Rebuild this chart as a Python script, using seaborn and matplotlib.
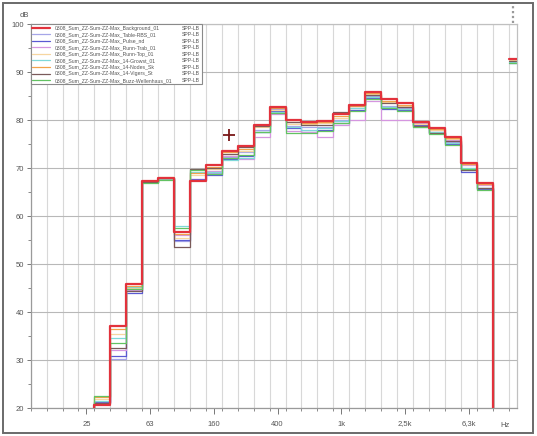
import numpy as np
import pandas as pd
import seaborn as sns
import matplotlib.pyplot as plt
from matplotlib.lines import Line2D
from matplotlib.patches import Rectangle
from matplotlib.ticker import FixedLocator, MultipleLocator

sns.set_theme(style="white")
plt.rcParams["font.family"] = ["Liberation Sans", "DejaVu Sans"]

# Third-octave band names, 12.5 Hz .. 10 kHz
bands = ["12,5", "16", "20", "25", "31,5", "40", "50", "63", "80", "100",
         "125", "160", "200", "250", "315", "400", "500", "630", "800", "1k",
         "1,25k", "1,6k", "2k", "2,5k", "3,15k", "4k", "5k", "6,3k", "8k", "10k"]
first_band = "31,5"          # first band with a measured level (levels run to 8k)
floor_db = 20

tick_bands = ["25", "63", "160", "400", "1k", "2,5k", "6,3k"]

series_names = [
    "0308_Sum_ZZ-Sum-ZZ-Max_Background_01",
    "0308_Sum_ZZ-Sum-ZZ-Max_Table-RBS_01",
    "0308_Sum_ZZ-Sum-ZZ-Max_Pulse_nd",
    "0308_Sum_ZZ-Sum-ZZ-Max_Runn-Trab_01",
    "0308_Sum_ZZ-Sum-ZZ-Max_Runn-Top_01",
    "0308_Sum_ZZ-Sum-ZZ-Max_14-Growst_01",
    "0308_Sum_ZZ-Sum-ZZ-Max_14-Nodes_Sk",
    "0308_Sum_ZZ-Sum-ZZ-Max_14-Vigers_St",
    "0308_Sum_ZZ-Sum-ZZ-Max_Buzz-Wellenhaus_01",
]
channel = "SPP-LB"

# Band levels in dB, 31.5 Hz .. 8 kHz
background = [20.6, 37.1, 45.8, 67.2, 68.0, 56.7, 67.2, 70.6, 73.6, 74.5, 79.0, 82.8, 80.0,
              79.6, 79.7, 81.2, 83.2, 85.9, 84.3, 83.5, 79.6, 78.3, 76.5, 71.0, 66.9]
table_rbs = [21.0, 30.2, 44.5, 67.0, 67.8, 54.8, 67.6, 69.0, 72.2, 73.3, 77.9, 82.3, 78.8,
             78.5, 78.6, 80.0, 82.6, 85.0, 83.0, 82.5, 79.0, 77.5, 75.4, 69.6, 65.8]
pulse = [21.2, 30.8, 44.0, 67.0, 67.9, 55.0, 67.8, 68.6, 71.8, 72.5, 77.5, 81.8, 78.3,
         77.5, 78.0, 79.4, 82.1, 84.5, 82.3, 82.0, 78.9, 77.3, 75.0, 69.2, 65.6]
runn_trab = [21.0, 32.0, 44.6, 67.0, 67.8, 56.0, 67.4, 69.4, 72.6, 71.9, 76.5, 81.2, 77.8,
             77.5, 76.4, 79.0, 80.0, 84.0, 80.0, 80.0, 79.4, 77.9, 75.9, 70.6, 66.5]
runn_top = [21.8, 35.5, 45.0, 67.1, 68.2, 55.5, 68.5, 69.8, 73.0, 73.5, 78.5, 82.1, 79.2,
            79.2, 79.3, 80.5, 83.0, 85.5, 83.8, 83.0, 79.2, 77.9, 76.0, 70.8, 66.7]
growst = [21.4, 34.5, 45.2, 67.0, 67.8, 58.0, 69.2, 69.2, 71.6, 72.0, 77.6, 81.6, 78.5,
          78.0, 78.3, 79.8, 82.4, 84.7, 82.8, 82.2, 78.6, 77.6, 75.2, 69.9, 65.9]
nodes = [22.3, 36.5, 45.5, 67.2, 68.0, 56.2, 68.9, 70.2, 73.3, 74.0, 78.8, 82.5, 79.6,
         79.4, 79.5, 80.8, 82.9, 85.7, 84.0, 83.2, 79.5, 78.1, 76.2, 70.8, 66.6]
vigers = [21.0, 32.5, 44.3, 67.0, 67.9, 53.5, 69.8, 70.0, 72.9, 74.3, 78.7, 82.8, 79.6,
          79.0, 79.0, 81.6, 83.1, 85.3, 83.5, 82.8, 78.8, 77.3, 75.6, 69.6, 65.8]
wellenhaus = [22.5, 33.5, 44.8, 66.9, 67.5, 57.6, 69.5, 68.8, 72.0, 72.8, 77.5, 81.4, 77.2,
              77.2, 77.8, 79.4, 81.8, 84.3, 82.6, 81.8, 78.5, 77.0, 74.8, 69.8, 65.5]

# Overall (broadband) level per measurement
overall = [92.8, 92.0, 91.8, 92.4, 92.6, 92.0, 92.7, 92.2, 91.9]

# Cursor position (band coordinate, dB)
cursor_x = 12.45
cursor_y = 76.9

levels = [background, table_rbs, pulse, runn_trab, runn_top, growst, nodes, vigers, wellenhaus]
colors = ["#e2323c", "#a6a6e8", "#5a5ad2", "#d596e0", "#f6d6a0",
          "#7fd8d8", "#f2a24a", "#7a5a5a", "#62c262"]
widths = [1.6, 0.9, 0.9, 0.9, 0.9, 0.9, 0.9, 0.9, 0.9]

n_bands = len(bands)
x_max = n_bands + 0.53          # narrow extra column holds the overall level
start = bands.index(first_band)

rows = []
for name, vals, ov in zip(series_names, levels, overall):
    rows.append((name, "spectrum", start, floor_db))
    for i, v in enumerate(vals):
        rows.append((name, "spectrum", start + i, v))
    rows.append((name, "spectrum", start + len(vals), floor_db))
    rows.append((name, "overall", n_bands, ov))
    rows.append((name, "overall", x_max, ov))
df = pd.DataFrame(rows, columns=["series", "segment", "x", "level"])

W, H = 537, 436
fig = plt.figure(figsize=(W / 100, H / 100), dpi=100)
fig.patch.set_facecolor("white")
ax = fig.add_axes([30.7 / W, 1 - 408 / H, (517 - 30.7) / W, 384 / H])
ax.set_facecolor("white")

sns.lineplot(data=df, x="x", y="level", hue="series", size="series", units="segment",
             estimator=None, sort=False, palette=dict(zip(series_names, colors)),
             sizes=dict(zip(series_names, widths)), drawstyle="steps-post",
             legend="full", ax=ax)

for ln in ax.lines:
    if ln.get_color() == colors[0]:
        ln.set_zorder(3)

sns.scatterplot(x=[cursor_x], y=[cursor_y], marker="+", s=70, color="#7a1818",
                linewidth=1.3, legend=False, ax=ax, zorder=5)

ax.set_xlim(0, x_max)
ax.set_ylim(20, 100)

centers = [bands.index(b) + 0.5 for b in tick_bands]
ax.xaxis.set_major_locator(FixedLocator(centers))
ax.set_xticklabels(tick_bands)
ax.xaxis.set_minor_locator(FixedLocator(np.arange(0, n_bands + 1)))
ax.yaxis.set_major_locator(MultipleLocator(10))
ax.yaxis.set_minor_locator(MultipleLocator(5))

ax.grid(True, which="minor", axis="x", color="#d8d8d8", lw=0.8)
ax.grid(True, which="major", axis="y", color="#b8b8b8", lw=0.8)
ax.grid(False, which="major", axis="x")
ax.set_axisbelow(True)

ax.tick_params(axis="both", which="both", direction="out", colors="#777777",
               labelsize=5.5, labelcolor="#555555", bottom=True, left=True)
ax.tick_params(axis="x", which="major", length=4, width=0.7, pad=5)
ax.tick_params(axis="x", which="minor", length=2, width=0.6)
ax.tick_params(axis="y", which="major", length=3, width=0.7, pad=2)
ax.tick_params(axis="y", which="minor", length=2, width=0.6)

for side, sp in ax.spines.items():
    sp.set_color("#9a9a9a" if side in ("left", "bottom") else "#c0c0c0")
    sp.set_linewidth(0.9)

ax.set_xlabel("")
ax.set_ylabel("")
ax.text(-0.012, 1.022, "dB", transform=ax.transAxes, ha="center", va="center",
        fontsize=5.5, color="#555555")
ax.text(0.975, -0.045, "Hz", transform=ax.transAxes, ha="center", va="center",
        fontsize=5.5, color="#555555")

# marker above the overall column
ax.plot([30.28, 30.28], [100.2, 104.6], ls=(0, (1, 1.2)), lw=1.6, color="#9a9a9a",
        clip_on=False)

# rebuild the legend with a channel column
leg = ax.get_legend()
handles = list(leg.legend_handles)
labels = [t.get_text() for t in leg.get_texts()]
leg.remove()
blank = [Line2D([], [], alpha=0) for _ in labels]
lg = ax.legend(handles + blank, labels + [channel] * len(labels), ncol=2,
               loc="upper left", bbox_to_anchor=(0.0, 1.0), borderaxespad=0.05,
               fontsize=3.7, labelspacing=0.3, handlelength=3.4, handletextpad=0.9,
               columnspacing=-2.3, borderpad=0.25, frameon=True, fancybox=False,
               framealpha=1.0, edgecolor="#8a8a8a", facecolor="white")
lg.get_frame().set_linewidth(0.8)
for t in lg.get_texts():
    t.set_color("#555555")

fig.add_artist(Rectangle((3 / W, 3 / H), 530 / W, 430 / H, transform=fig.transFigure,
                         fill=False, edgecolor="#6a6a6a", lw=1.4))

fig.savefig("out.png", dpi=100)
